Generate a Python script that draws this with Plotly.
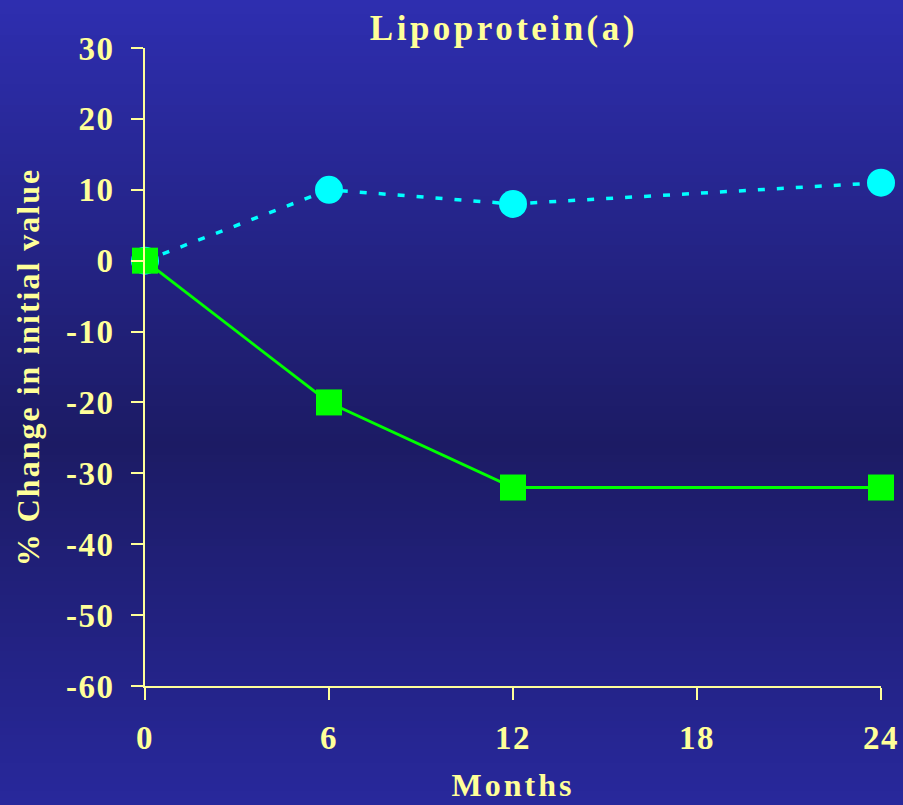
import plotly.graph_objects as go

# data
months = [0, 6, 12, 24]
green_vals = [0, -20, -32, -32]
cyan_vals = [0, 10, 8, 11]
x_ticks = [0, 6, 12, 18, 24]
y_ticks = [30, 20, 10, 0, -10, -20, -30, -40, -50, -60]

YELLOW = "#FFFF99"
FONT = "Liberation Serif"

fig = go.Figure()

fig.add_trace(go.Scatter(
    x=months, y=cyan_vals, mode="lines+markers",
    line=dict(color="#00FFFF", width=3.5, dash="7px,12px"),
    marker=dict(symbol="circle", size=28, color="#00FFFF"),
    cliponaxis=False, showlegend=False,
))
fig.add_trace(go.Scatter(
    x=months, y=green_vals, mode="lines+markers",
    line=dict(color="#00FF00", width=2.8),
    marker=dict(symbol="square", size=26, color="#00FF00"),
    cliponaxis=False, showlegend=False,
))

# vertical gradient background built from thin bands
W, H = 903, 805
ml, mr, mt, mb = 145, 22, 48, 119
pw, ph = W - ml - mr, H - mt - mb
stops = [(0.0, (46, 46, 176)), (0.55, (28, 27, 100)), (1.0, (40, 40, 156))]


def col_at(t):
    for (t0, c0), (t1, c1) in zip(stops, stops[1:]):
        if t <= t1:
            f = (t - t0) / (t1 - t0)
            return "rgb(%d,%d,%d)" % tuple(round(a + (b - a) * f) for a, b in zip(c0, c1))
    return "rgb(%d,%d,%d)" % stops[-1][1]


shapes = []
n = 115
for i in range(n):
    r0, r1 = H * i / n, H * (i + 1) / n + 1
    shapes.append(dict(
        type="rect", xref="paper", yref="paper", layer="below",
        x0=-ml / pw, x1=(W - ml) / pw,
        y0=(H - r1 - mb) / ph, y1=(H - r0 - mb) / ph,
        fillcolor=col_at((i + 0.5) / n), line=dict(width=0),
    ))

fig.update_layout(
    width=W, height=H,
    margin=dict(l=ml, r=mr, t=mt, b=mb),
    paper_bgcolor="rgb(30,29,110)",
    plot_bgcolor="rgba(0,0,0,0)",
    shapes=shapes,
    title=dict(text="<b>Lipoprotein(a)</b>", x=0.558, xanchor="center",
               y=0.966, yanchor="middle",
               font=dict(family=FONT, size=35, color=YELLOW)),
    font=dict(family=FONT, color=YELLOW),
)

fig.update_xaxes(
    range=[0, 24], tickvals=x_ticks, ticktext=["<b>%d</b>" % v for v in x_ticks],
    automargin=False,
    showgrid=False, zeroline=False, showline=True, linecolor=YELLOW, linewidth=2,
    ticks="outside", ticklen=12, tickwidth=2, tickcolor=YELLOW, ticklabelstandoff=9,
    tickfont=dict(family=FONT, size=33, color=YELLOW),
    title=dict(text="<b>Months</b>", font=dict(family=FONT, size=32, color=YELLOW), standoff=19),
)
fig.update_yaxes(
    range=[-60, 30], tickvals=y_ticks, ticktext=["<b>%d</b>" % v for v in y_ticks],
    automargin=False,
    showgrid=False, zeroline=False, showline=True, linecolor=YELLOW, linewidth=2,
    ticks="outside", ticklen=12, tickwidth=2, tickcolor=YELLOW, ticklabelstandoff=10,
    tickfont=dict(family=FONT, size=33, color=YELLOW),
    title=dict(text="<b>% Change in initial value</b>", font=dict(family=FONT, size=32, color=YELLOW), standoff=21),
)

# no page margin, and the slide-like letter spacing on the texts
post = """
document.body.style.margin = '0';
document.querySelectorAll('.gtitle').forEach(t => t.style.letterSpacing = '3.5px');
document.querySelectorAll('.xtitle').forEach(t => t.style.letterSpacing = '3px');
document.querySelectorAll('.ytitle').forEach(t => t.style.letterSpacing = '2px');
document.querySelectorAll('.xtick text, .ytick text').forEach(t => t.style.letterSpacing = '1.5px');
"""

fig.write_html("out.html", post_script=post, config={"displayModeBar": False})
